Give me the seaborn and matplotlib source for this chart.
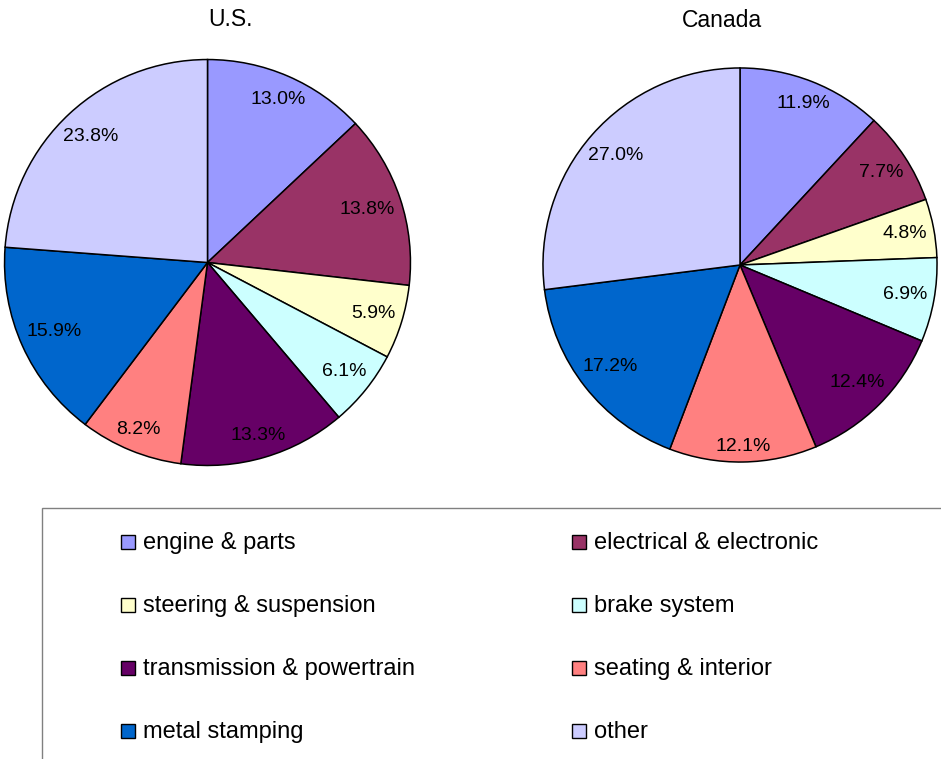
import math
import matplotlib
matplotlib.use("Agg")
import matplotlib.pyplot as plt
from matplotlib.patches import Rectangle
import seaborn as sns

categories = ["engine & parts", "electrical & electronic", "steering & suspension",
              "brake system", "transmission & powertrain", "seating & interior",
              "metal stamping", "other"]
us_values = [13.0, 13.8, 5.9, 6.1, 13.3, 8.2, 15.9, 23.8]
canada_values = [11.9, 7.7, 4.8, 6.9, 12.4, 12.1, 17.2, 27.0]
hex_colors = ["#9999FF", "#993366", "#FFFFCC", "#CCFFFF",
              "#660066", "#FF8080", "#0066CC", "#CCCCFF"]

sns.set_theme(style="white")
plt.rcParams["font.family"] = ["Liberation Sans", "DejaVu Sans"]
palette = sns.color_palette(hex_colors)

W, H = 941, 759
fig = plt.figure(figsize=(W / 100, H / 100), dpi=100)
fig.patch.set_facecolor("white")

LABEL_FS = 14
pies = []


def add_pie(values, cx, cy, r, title, tx, tbase):
    ax = fig.add_axes([(cx - r) / W, (H - cy - r) / H, 2 * r / W, 2 * r / H])
    wedges, texts, autotexts = ax.pie(
        values, colors=palette, startangle=90, counterclock=False,
        autopct=lambda p: f"{p:.1f}%", pctdistance=0.85, radius=1.0,
        wedgeprops=dict(edgecolor="black", linewidth=1.1),
        textprops=dict(fontsize=LABEL_FS, color="black"))
    ax.set_xlim(-1.01, 1.01)
    ax.set_ylim(-1.01, 1.01)
    ax.axis("off")
    fig.text(tx / W, (H - tbase) / H, title, ha="center", va="baseline",
             fontsize=16.5, color="black")
    pies.append((ax, wedges, autotexts, r))


add_pie(us_values, 207.5, 262.5, 205, "U.S.", 230, 26)
add_pie(canada_values, 740, 265, 199, "Canada", 722, 27)

# Excel-like label placement: keep the label box's outer corner just inside the rim
fig.canvas.draw()
renderer = fig.canvas.get_renderer()
K_FRAC = 0.968
hh = 0.36 * LABEL_FS * 100 / 72
for ax, wedges, autotexts, r in pies:
    for w, t in zip(wedges, autotexts):
        ang = math.radians((w.theta1 + w.theta2) / 2)
        c, s = math.cos(ang), math.sin(ang)
        bb = t.get_window_extent(renderer)
        hw = bb.width / 2
        a = hw * (1 if c >= 0 else -1)
        b = hh * (1 if s >= 0 else -1)
        K = K_FRAC * r
        p = c * a + s * b
        d = -p + math.sqrt(p * p - (a * a + b * b - K * K))
        t.set_position((d * c / r, d * s / r))
        t.set_va("center")

# legend box
fig.patches.append(Rectangle((42 / W, -0.1), 1.0, (H - 508) / H + 0.1,
                             transform=fig.transFigure, facecolor="none",
                             edgecolor="#808080", linewidth=1.0))

col_x = [121, 572]
row_top = [535, 598, 661, 724]
sq = 14
for i, (cat, col) in enumerate(zip(categories, palette)):
    r, c = divmod(i, 2)
    x0 = col_x[c]
    y0 = row_top[r]
    fig.patches.append(Rectangle((x0 / W, (H - y0 - sq) / H), sq / W, sq / H,
                                 transform=fig.transFigure, facecolor=col,
                                 edgecolor="black", linewidth=1.0))
    fig.text((x0 + 22) / W, (H - y0 - sq) / H, cat, ha="left", va="baseline",
             fontsize=17, color="black")

fig.savefig("out.png", dpi=100, facecolor="white")
